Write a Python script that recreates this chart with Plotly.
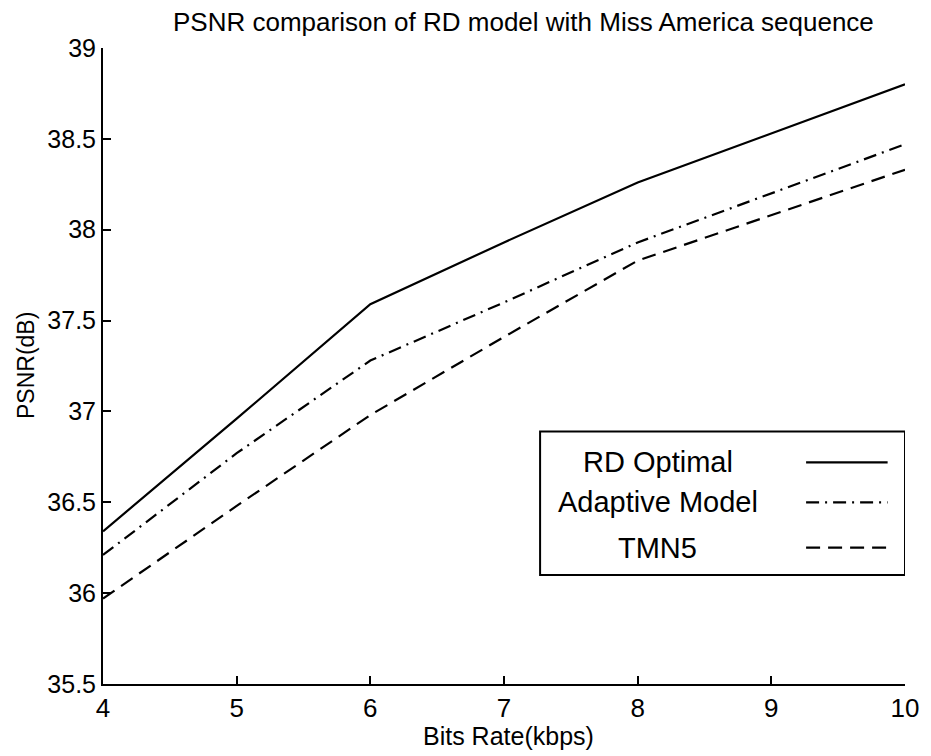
import plotly.graph_objects as go

# ---- data ----
bit_rate = [4, 5, 6, 7, 8, 9, 10]
rd_optimal = [36.34, 36.96, 37.59, 37.93, 38.26, 38.53, 38.80]
adaptive_model = [36.21, 36.77, 37.28, 37.60, 37.93, 38.20, 38.47]
tmn5 = [35.97, 36.48, 36.98, 37.41, 37.83, 38.08, 38.33]

x_ticks = [4, 5, 6, 7, 8, 9, 10]
y_ticks = [35.5, 36, 36.5, 37, 37.5, 38, 38.5, 39]
y_tick_text = ["35.5", "36", "36.5", "37", "37.5", "38", "38.5", "39"]

series_names = ["RD Optimal", "Adaptive Model", "TMN5"]
series_values = [rd_optimal, adaptive_model, tmn5]
series_dash = ["solid", "13px,6px,2px,6px", "14px,8px"]

FONT = "Liberation Sans, Arial, sans-serif"

fig = go.Figure()
for name, vals, dash in zip(series_names, series_values, series_dash):
    fig.add_trace(go.Scatter(x=bit_rate, y=vals, mode="lines", name=name,
                             line=dict(color="black", width=2.2, dash=dash),
                             showlegend=False))

fig.update_layout(
    width=931, height=756,
    margin=dict(l=103, r=18, t=48, b=72),
    paper_bgcolor="white", plot_bgcolor="white",
    font=dict(family=FONT, color="black", size=25),
    xaxis=dict(range=[4, 10], tickvals=x_ticks, ticks="inside", ticklen=8,
               tickwidth=2, tickcolor="black", showline=True, linewidth=2,
               linecolor="black", showgrid=False, zeroline=False,
               tickfont=dict(size=26)),
    yaxis=dict(range=[35.5, 39], tickvals=y_ticks, ticktext=y_tick_text,
               ticks="inside", ticklen=8, tickwidth=2, tickcolor="black",
               showline=True, linewidth=2, linecolor="black", showgrid=False,
               zeroline=False, tickfont=dict(size=25)),
)

# titles
fig.add_annotation(text="PSNR comparison of RD model with Miss America sequence",
                   xref="paper", yref="paper", x=0.524, y=1.041, xanchor="center",
                   yanchor="middle", showarrow=False, font=dict(size=26))
fig.add_annotation(text="Bits Rate(kbps)", xref="paper", yref="paper", x=0.505,
                   y=-0.082, xanchor="center", yanchor="middle", showarrow=False,
                   font=dict(size=25))
fig.add_annotation(text="PSNR(dB)", xref="paper", yref="paper", x=-0.096, y=0.5,
                   xanchor="center", yanchor="middle", textangle=-90,
                   showarrow=False, font=dict(size=23))

# custom legend box (text left, line sample right)
leg_x0, leg_x1 = 7.27, 10.0
leg_y0, leg_y1 = 36.10, 36.89
fig.add_shape(type="rect", xref="x", yref="y", x0=leg_x0, x1=leg_x1,
              y0=leg_y0, y1=leg_y1, line=dict(color="black", width=2),
              fillcolor="white", layer="above")
row_y = [36.72, 36.50, 36.25]
for name, dash, ry in zip(series_names, series_dash, row_y):
    fig.add_annotation(text=name, xref="x", yref="y", x=8.15, y=ry,
                       xanchor="center", yanchor="middle", showarrow=False,
                       font=dict(size=29))
    fig.add_shape(type="line", xref="x", yref="y", x0=9.26, x1=9.87, y0=ry,
                  y1=ry, line=dict(color="black", width=2.2, dash=dash),
                  layer="above")

fig.write_html("out.html")
